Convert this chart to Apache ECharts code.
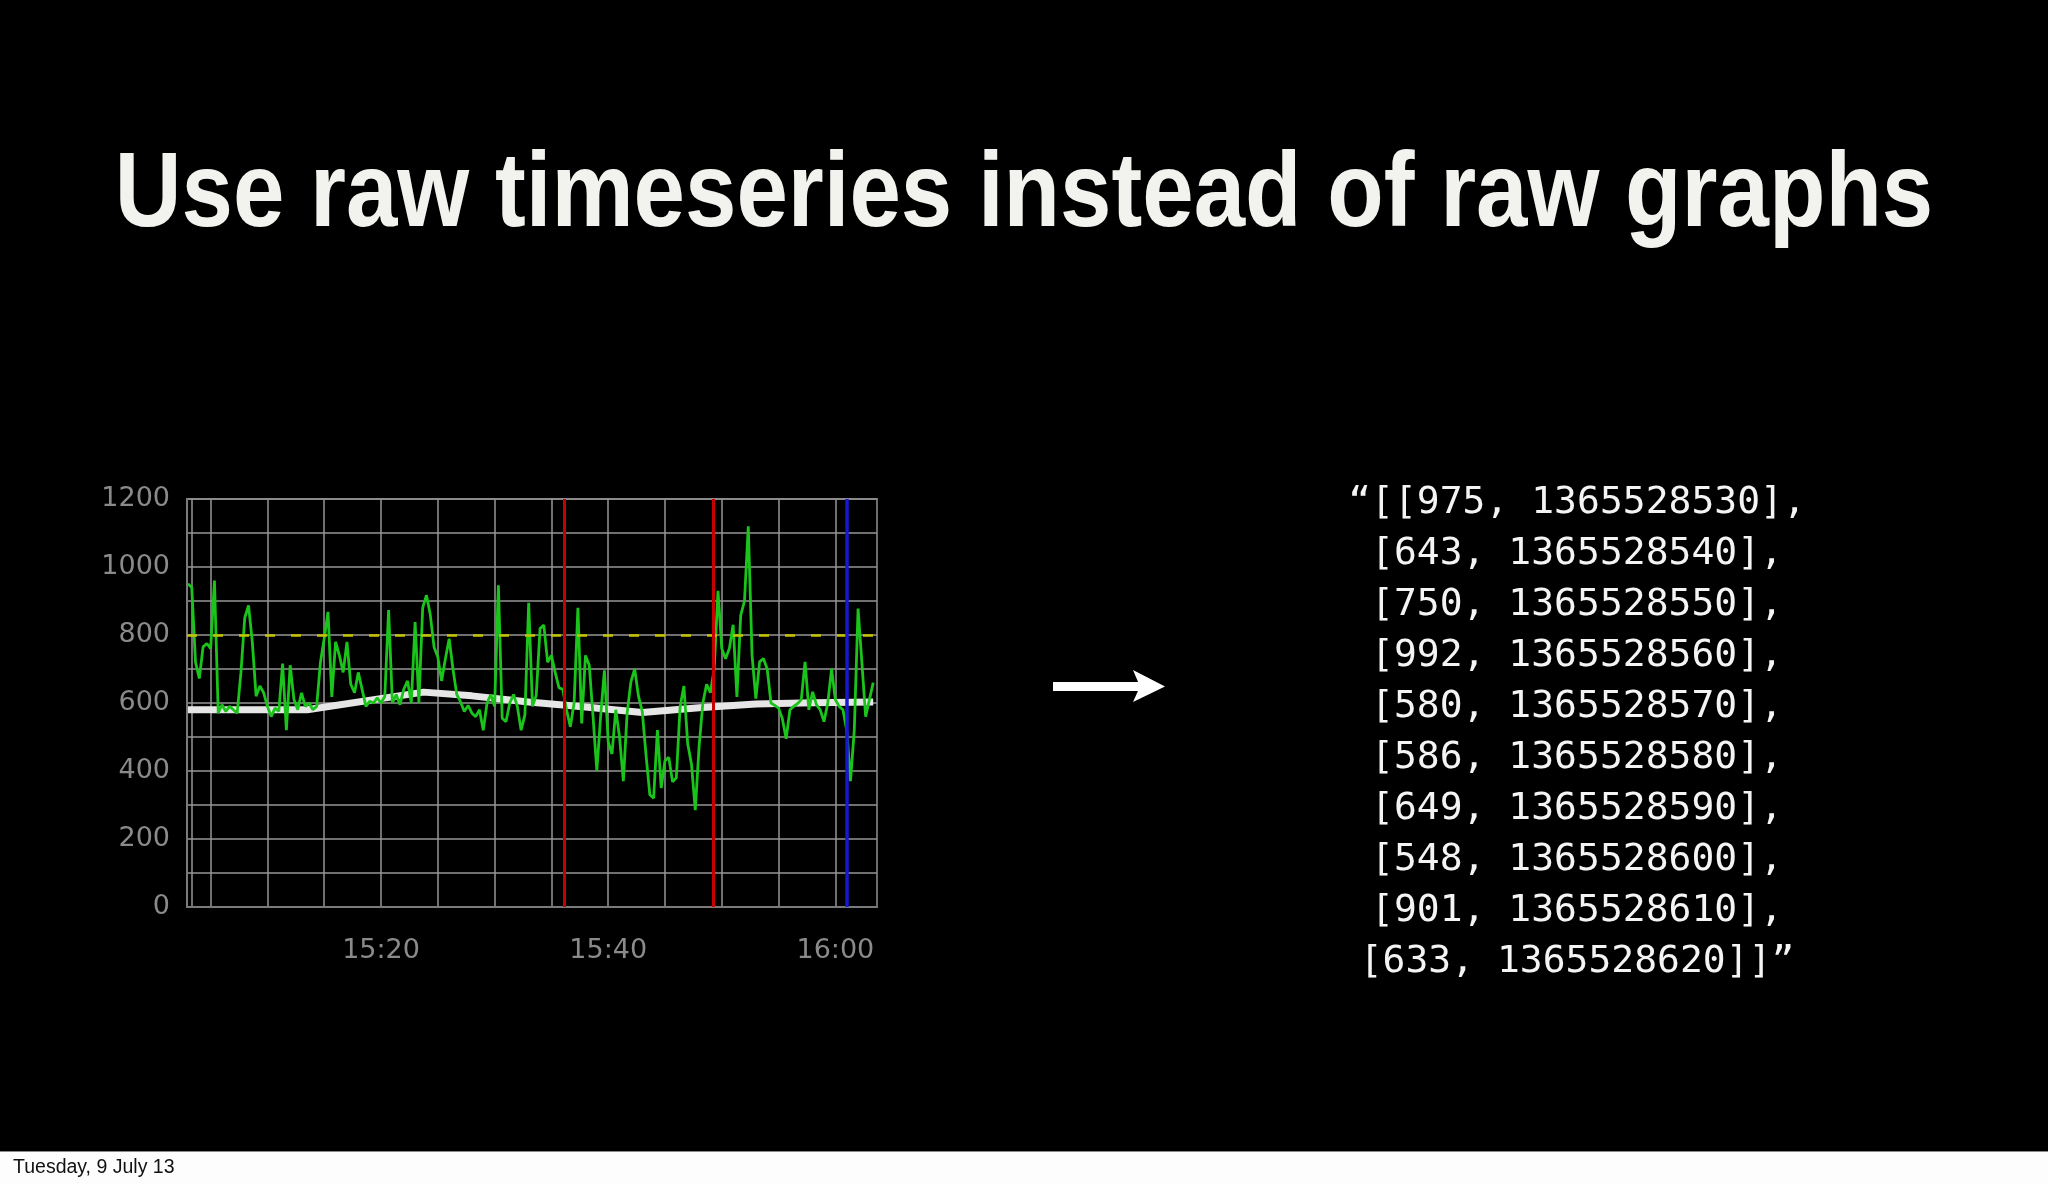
<!DOCTYPE html>
<html>
<head>
<meta charset="utf-8">
<title>Use raw timeseries instead of raw graphs</title>
<script src="https://cdn.jsdelivr.net/npm/echarts@6/dist/echarts.min.js"></script>
<style>
  html, body { margin: 0; padding: 0; background: #000; }
  #main { width: 2048px; height: 1184px; }
</style>
</head>
<body>
<div id="main"></div>
<script>
const titleText = 'Use raw timeseries instead of raw graphs';
const footerText = 'Tuesday, 9 July 13';

// the raw datapoints shown on the right of the slide
const rawLines = [
  '\u201c[[975, 1365528530],',
  '[643, 1365528540],',
  '[750, 1365528550],',
  '[992, 1365528560],',
  '[580, 1365528570],',
  '[586, 1365528580],',
  '[649, 1365528590],',
  '[548, 1365528600],',
  '[901, 1365528610],',
  '[633, 1365528620]]\u201d'
];

// x axis window, grid lines and labels (hh:mm:ss)
const xMin = '15:02:55';
const xMax = '16:03:40';
const xGridTimes = ['15:03:20', '15:05', '15:10', '15:15', '15:20', '15:25', '15:30',
  '15:35', '15:40', '15:45', '15:50', '15:55', '16:00'];
const xLabelTimes = ['15:20', '15:40', '16:00'];

// raw metric, one value every 20 s from greenStart
const greenStart = '15:03:00';
const greenStep = 20;
const greenValues = [
  951, 940, 720, 672, 765, 775, 760, 960, 570, 595,
  575, 590, 580, 570, 690, 850, 887, 780, 620, 650,
  630, 590, 560, 585, 575, 716, 520, 711, 610, 580,
  630, 590, 600, 580, 590, 720, 790, 868, 618, 780,
  740, 690, 780, 655, 630, 690, 640, 590, 605, 600,
  615, 600, 620, 873, 600, 625, 595, 640, 665, 600,
  838, 600, 880, 917, 860, 765, 735, 665, 730, 789,
  700, 625, 603, 575, 593, 570, 560, 580, 520, 600,
  625, 590, 946, 555, 545, 600, 625, 590, 520, 565,
  895, 590, 623, 819, 829, 720, 740, 690, 645, 640,
  580, 530, 600, 880, 540, 740, 711, 560, 400, 560,
  696, 486, 450, 580, 500, 370, 570, 662, 700, 620,
  575, 446, 330, 320, 520, 350, 430, 440, 368, 380,
  590, 650, 480, 420, 285, 470, 600, 655, 630, 700,
  930, 760, 730, 760, 830, 618, 858, 900, 1120, 740,
  613, 721, 731, 700, 600, 593, 585, 554, 495, 580,
  590, 598, 610, 721, 580, 633, 595, 580, 545, 600,
  700, 610, 590, 580, 520, 370, 520, 878, 720, 560,
  610, 660
];

// smoothed average (white line)
const avgTimes = ['15:03:00', '15:13:30', '15:23:45', '15:28:00', '15:33:00', '15:38:00',
  '15:43:00', '15:48:00', '15:53:00', '15:58:00', '16:03:20'];
const avgValues = [580, 580, 632, 621, 603, 588, 572, 586, 597, 601, 603];

const threshold = 800;
const redEvents = ['15:36:10', '15:49:15'];
const blueEvents = ['16:00:58'];

// seconds since midnight
const ts = (s) => {
  const p = s.split(':').map(Number);
  return p[0] * 3600 + p[1] * 60 + (p[2] || 0);
};
const pad = (n) => (n < 10 ? '0' : '') + n;

const chart = echarts.init(document.getElementById('main'));

const greenData = greenValues.map((v, i) => [ts(greenStart) + i * greenStep, v]);
const avgData = avgTimes.map((t, i) => [ts(t), avgValues[i]]);

const labelStyle = { color: '#8a8a8a', fontSize: 27, fontFamily: 'DejaVu Sans' };
const gridLine = { color: '#969696', width: 1.5 };

const option = {
  backgroundColor: '#000',
  animation: false,
  grid: {
    left: 187, top: 499, width: 690, height: 408,
    show: true, borderColor: '#6c6c6c', borderWidth: 2
  },
  xAxis: {
    type: 'value',
    min: ts(xMin),
    max: ts(xMax),
    axisLine: { show: true, lineStyle: { color: '#7a7a7a', width: 2 } },
    axisTick: { show: false, customValues: xGridTimes.map(ts) },
    axisLabel: Object.assign({
      customValues: xLabelTimes.map(ts),
      margin: 30,
      formatter: (v) => pad(Math.floor(v / 3600)) + ':' + pad(Math.floor(v % 3600 / 60))
    }, labelStyle),
    splitLine: { show: true, lineStyle: gridLine }
  },
  yAxis: {
    type: 'value',
    min: 0,
    max: 1200,
    interval: 100,
    axisLine: { show: true, lineStyle: { color: '#7a7a7a', width: 2 } },
    axisTick: { show: false },
    axisLabel: Object.assign({
      margin: 17,
      formatter: (v) => (v % 200 === 0 ? String(v) : '')
    }, labelStyle),
    splitLine: { show: true, lineStyle: gridLine }
  },
  series: [
    {
      name: 'average',
      type: 'line',
      data: avgData,
      symbol: 'none',
      z: 2,
      lineStyle: { color: '#e6e6e6', width: 7 },
      markLine: {
        silent: true,
        symbol: ['none', 'none'],
        label: { show: false },
        data: [{ yAxis: threshold, lineStyle: { color: '#c4c400', width: 2.5, type: [10, 16] } }]
      }
    },
    {
      name: 'raw',
      type: 'line',
      data: greenData,
      symbol: 'none',
      z: 3,
      lineStyle: { color: '#1ac41a', width: 2.8 },
      markLine: {
        silent: true,
        symbol: ['none', 'none'],
        label: { show: false },
        data: redEvents.map((t) => ({ xAxis: ts(t), lineStyle: { color: '#c80000', width: 3, type: 'solid' } }))
          .concat(blueEvents.map((t) => ({ xAxis: ts(t), lineStyle: { color: '#1818d0', width: 3.5, type: 'solid' } })))
      }
    }
  ],
  graphic: [
    {
      type: 'text',
      x: 1024,
      y: 197,
      scaleX: 0.872,
      style: {
        text: titleText,
        font: 'bold 106px "Liberation Sans", Arial, sans-serif',
        fill: '#f2f2ee',
        textAlign: 'center',
        textVerticalAlign: 'middle'
      }
    },
    {
      type: 'text',
      x: 1577,
      y: 478,
      style: {
        text: rawLines.join('\n'),
        font: '38px "DejaVu Sans Mono", monospace',
        lineHeight: 51,
        fill: '#f4f4f4',
        textAlign: 'center',
        textVerticalAlign: 'top'
      }
    },
    {
      type: 'group',
      children: [
        { type: 'rect', shape: { x: 1053, y: 682, width: 88, height: 9 }, style: { fill: '#fff' } },
        { type: 'polygon', shape: { points: [[1133, 670], [1165, 686.5], [1133, 702], [1140, 686.5]] }, style: { fill: '#fff' } }
      ]
    },
    { type: 'rect', shape: { x: 0, y: 1152, width: 2048, height: 32 }, style: { fill: '#fdfdfd' } },
    { type: 'rect', shape: { x: 0, y: 1151, width: 2048, height: 1 }, style: { fill: '#8a8a8a' } },
    {
      type: 'text',
      x: 13,
      y: 1168,
      style: {
        text: footerText,
        font: '19.5px "Liberation Sans", Arial, sans-serif',
        fill: '#111',
        textAlign: 'left',
        textVerticalAlign: 'middle'
      }
    }
  ]
};

chart.setOption(option);
</script>
</body>
</html>
